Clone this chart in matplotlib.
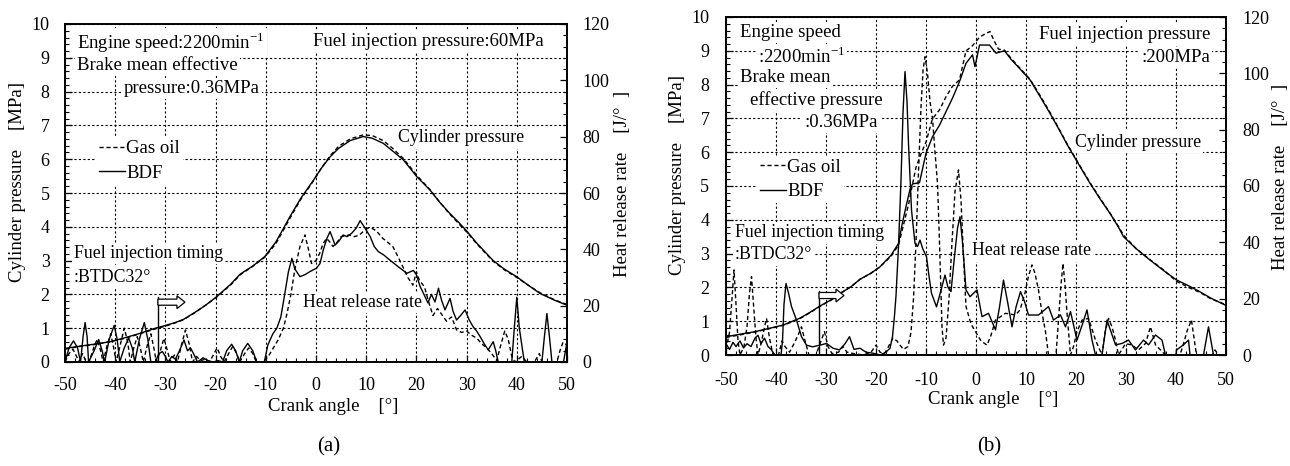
import matplotlib
matplotlib.use("Agg")
import matplotlib.pyplot as plt
import matplotlib.ticker as mticker
from matplotlib.lines import Line2D

plt.rcParams['font.family'] = ['Liberation Serif', 'DejaVu Serif']
plt.rcParams['mathtext.fontset'] = 'custom'
plt.rcParams['mathtext.rm'] = 'Liberation Serif'
plt.rcParams['axes.unicode_minus'] = False

# ---------------- panel (a): fuel injection pressure 60 MPa ----------------
a_p_bdf_x = [-50, -47, -44, -41, -38, -35, -32, -30, -28, -26.4, -24, -22, -19.8, -17, -15.1,
             -12.5, -10.2, -8, -6.5, -5.2, -3, -0.5, 1, 2.8, 4.5, 6.8, 9.4, 11.2, 13.4, 15.2,
             17.4, 20.1, 22.7, 24.5, 26.5, 28.5, 30, 32, 35.3, 37.5, 40, 42.3, 44.6, 47.5, 50]
a_p_bdf = [0.40, 0.47, 0.53, 0.60, 0.72, 0.85, 1.00, 1.08, 1.17, 1.26, 1.48, 1.68, 1.93, 2.30, 2.60,
           2.85, 3.12, 3.55, 3.95, 4.30, 4.85, 5.38, 5.72, 6.07, 6.32, 6.55, 6.67, 6.62, 6.47, 6.25,
           5.98, 5.48, 5.09, 4.75, 4.42, 4.12, 3.88, 3.52, 3.00, 2.75, 2.52, 2.27, 2.03, 1.83, 1.68]
a_p_gas_x = a_p_bdf_x
a_p_gas = [0.38, 0.46, 0.52, 0.60, 0.70, 0.84, 0.98, 1.06, 1.16, 1.25, 1.47, 1.68, 1.92, 2.28, 2.58,
           2.84, 3.10, 3.50, 3.90, 4.25, 4.82, 5.36, 5.72, 6.10, 6.38, 6.60, 6.72, 6.70, 6.55, 6.33,
           6.02, 5.52, 5.10, 4.76, 4.40, 4.08, 3.85, 3.50, 2.98, 2.73, 2.50, 2.27, 2.05, 1.84, 1.70]

a_h_bdf_x = [-50, -49.2, -48.3, -47.5, -46.9, -46.4, -46.0, -45.6, -45.3, -44.2, -43.3, -42.6, -42.1,
             -41.2, -40.2, -39.6, -39.1, -38.2, -37.3, -36.6, -36.1, -35.2, -34.2, -33.5, -32.9,
             -32.0, -31.3, -30.6, -30.0, -29.5, -28.7, -28.0, -27.2, -26.3, -25.6, -25.0, -24.4,
             -23.6, -22.5, -21.5, -20.5, -19.5, -18.6, -17.8, -16.8, -16.0, -15.3, -14.6, -13.6,
             -12.6, -11.8, -10.3, -9.6, -8.6, -7.8, -7.0, -6.2, -5.5, -4.8, -4.2, -3.2, -2.2, -1.2,
             0.1, 0.8, 1.45, 2.2, 2.8, 3.3, 3.8, 4.6, 5.4, 6.2, 7.1, 8.0, 8.8, 9.6, 10.8, 11.6, 12.4,
             13.5, 14.7, 16.4, 18.1, 19.4, 20.0, 20.7, 21.5, 22.3, 23.0, 23.7, 24.4, 25.0, 25.7,
             26.7, 27.3, 28.0, 28.8, 29.7, 30.5, 31.3, 32.0, 32.7, 33.5, 34.3, 35.3, 35.8, 36.3,
             39.0, 39.5, 40.0, 40.5, 41.5, 45.0, 45.5, 46.0, 46.5, 47.0, 49.3, 49.7, 50]
a_h_bdf = [0, 5, 7.5, 5, 0, 9, 14, 9, 0, 4, 8, 4, 0,
           8, 13, 8, 0, 5, 8.5, 5, 0, 8, 14, 8, 0,
           0, 3, 3.7, 2, 0, 2, 1, 4, 7.8, 4, 5, 3,
           0, 1.5, 0.5, 0, 0.5, 0, 4, 6.3, 4, 0, 4, 6.6,
           4, 0, 0, 6, 10, 12, 16, 24.4, 32, 36.8, 33, 30.3, 31, 32.1,
           33.3, 35, 39.8, 44, 46.3, 44, 41.5, 43, 45.1, 44.5, 45.7, 47.5, 50.2, 48, 44.5, 41, 39.2,
           38, 36.2, 33.8, 31.5, 32.5, 31, 27, 24, 21, 24, 21.3, 26.2, 22, 18.5,
           22.6, 18, 14.9, 16.5, 18.5, 15, 12.5, 11, 9, 6.5, 4.3, 7.2, 4, 0,
           0, 12, 23, 12, 0, 0, 9, 17.2, 9, 0, 0, 4, 7]

a_h_gas_x = [-50, -49.2, -48.4, -47.7, -47.2, -46.5, -45.8, -45.2, -44.3, -43.6, -42.9, -42.4,
             -41.6, -40.9, -40.3, -39.8, -39.0, -38.2, -37.5, -37.0, -36.3, -35.6, -35.0, -34.4,
             -33.6, -32.9, -32.3, -31.8, -31.0, -30.3, -29.6, -29.0, -28.2, -27.6, -26.8, -26.0,
             -25.2, -24.6, -23.8, -23.0, -22.0, -21.2, -20.3, -19.7, -19.0, -18.3, -17.4, -16.6,
             -15.8, -15.2, -14.2, -13.4, -12.6, -11.9, -10.5, -9.5, -8.5, -7.5, -6.5, -5.8, -5.0,
             -4.2, -3.2, -2.2, -1.5, -0.9, 0.0, 0.76, 1.4, 2.1, 2.8, 3.4, 4.2, 5.0, 6.6, 7.6, 8.6,
             9.5, 10.3, 11.2, 12.0, 13.3, 14.3, 15.3, 16.3, 17.3, 18.3, 19.3, 20.0, 20.6, 21.6,
             22.5, 23.3, 24.2, 25.0, 26.0, 27.0, 28.0, 29.0, 30.0, 31.0, 32.0, 33.0, 34.0, 35.0,
             36.0, 36.8, 37.6, 38.3, 39.0, 39.6, 41.0, 42.0, 43.5, 44.5, 45.0, 48.0, 48.6, 49.2, 50]
a_h_gas = [0, 3, 4.5, 2, 0, 3, 0, 0, 5, 8, 4, 0,
           6, 10, 5, 0, 6, 12, 7, 0, 5, 9, 5, 0,
           6, 10, 5, 0, 4, 8.4, 4, 0, 2.5, 0, 6, 11.4,
           6, 0, 2, 0.5, 1, 0, 3, 5, 2, 0, 3, 5.5,
           3, 0, 3, 5, 3, 0, 0, 2, 5, 8, 12, 17, 24,
           33, 41, 45.1, 40, 35, 36, 38.7, 42, 43.9, 42.5, 41, 42.5, 44.5, 45.1, 44.5, 45,
           46.5, 47.5, 47.4, 46.6, 43.9, 42.5, 41, 37.5, 33.8, 30, 27.3, 32, 29, 26.7,
           21, 16.5, 19, 17, 14.5, 16, 11.4, 10.5, 11, 9.5, 8.5, 6.5, 5, 3,
           0.5, 6, 11, 8, 2, 0, 2, 0, 0, 3, 0, 0, 4, 7, 6]

# ---------------- panel (b): fuel injection pressure 200 MPa ----------------
b_p_bdf_x = [-50, -47, -44.2, -41, -38.5, -35.2, -33, -31.2, -29, -27.2, -25, -23.2, -21, -19.2,
             -17, -15.5, -14.8, -14.0, -13.2, -12.7, -11.3, -10.0, -8.7, -7.3, -6.0, -4.7, -3.3,
             -2.0, -0.7, -0.2, 0.7, 2.7, 4.0, 5.7, 7.0, 8.7, 10.8, 12.8, 14.8, 16.5, 18.1, 20.5,
             22.8, 24.8, 26.8, 28.5, 29.5, 32, 34.8, 37.5, 40.1, 42.5, 44.8, 47, 49.8, 50]
b_p_bdf = [0.54, 0.62, 0.69, 0.80, 0.89, 1.09, 1.28, 1.45, 1.63, 1.82, 2.02, 2.24, 2.42, 2.61,
           2.95, 3.30, 3.85, 4.39, 4.90, 5.06, 5.10, 5.97, 6.46, 6.80, 7.20, 7.60, 8.09,
           8.63, 8.88, 8.53, 9.17, 9.17, 8.93, 9.00, 8.75, 8.48, 8.14, 7.65, 7.15, 6.70, 6.26, 5.65,
           5.08, 4.62, 4.19, 3.78, 3.50, 3.15, 2.81, 2.50, 2.22, 2.05, 1.87, 1.68, 1.48, 1.46]
b_p_gas_x = [-50, -47, -44.2, -41, -38.5, -35.2, -33, -31.2, -29, -27.2, -25, -23.2, -21, -19.2,
             -17, -15.5, -14.5, -13.5, -12.7, -12.0, -11, -10, -8.7, -7.3, -6.0, -4.7, -3.3,
             -2.0, -0.7, 0.7, 1.8, 2.8, 3.6, 4.5, 5.7, 7.0, 8.7, 10.8, 12.8, 14.8, 16.5, 18.1, 20.5,
             22.8, 24.8, 26.8, 28.5, 29.5, 32, 34.8, 37.5, 40.1, 42.5, 44.8, 47, 49.8, 50]
b_p_gas = [0.52, 0.60, 0.68, 0.79, 0.88, 1.08, 1.27, 1.44, 1.62, 1.82, 2.02, 2.24, 2.42, 2.61,
           2.92, 3.25, 3.85, 4.45, 5.05, 5.55, 5.95, 6.30, 6.99, 7.25, 7.64, 7.95, 8.14,
           9.00, 9.15, 9.40, 9.50, 9.57, 9.30, 9.05, 9.02, 8.78, 8.50, 8.16, 7.68, 7.18, 6.72, 6.28, 5.67,
           5.10, 4.64, 4.20, 3.80, 3.55, 3.15, 2.82, 2.52, 2.18, 2.00, 1.85, 1.66, 1.50, 1.48]

b_h_bdf_x = [-50, -49.3, -48.6, -48, -47.2, -46.5, -45.8, -45, -44.2, -43.6, -43, -42.3, -41.6, -41,
             -40.2, -39.0, -38.7, -38.4, -38.0, -37.5, -36.9, -35.9, -34.9, -33.9, -32.7, -31.2,
             -29.9, -28.6, -27.3, -26.2, -25.3, -24.4, -23.2, -22.0, -20.5, -19.2, -18.0, -17.2,
             -16.7, -16.3, -16.0, -15.5, -15.0, -14.6, -14.2, -13.8, -13.5, -12.9, -12.2, -11.7,
             -11.2, -10.6, -9.9, -9.4, -8.9, -7.9, -7.0, -6.2, -5.6, -5.0, -4.3, -3.7, -3.2, -2.7,
             -2.0, -1.2, 0.2, 1.2, 2.5, 3.9, 4.7, 5.5, 6.3, 7.2, 8.0, 8.9, 9.7, 10.5, 12.5, 14.5,
             15.5, 16.9, 17.9, 18.9, 20.2, 21.3, 22.2, 23.2, 23.9, 25.2, 26.2, 27.9, 29.2, 30.5,
             31.9, 33.5, 34.5, 35.9, 37.2, 37.9, 40.0, 40.1, 41.5, 42.5, 42.8, 45.5, 46.5, 47.5, 50]
b_h_bdf = [4, 2, 4.5, 3, 5, 2.5, 4, 3, 6, 7, 4, 6, 3, 2,
           0, 0, 5, 18, 25.4, 22, 17.2, 12.4, 6.5, 3.5, 2.9, 3.5,
           4.1, 2.4, 1.8, 4, 6.5, 2, 2.4, 1, 0.6, 0, 1, 2.4,
           6.5, 14, 21, 38.6, 62, 86, 100.6, 90, 75, 51.5, 39.6, 38.5,
           40.8, 37.5, 34.9, 28, 21.9, 17.1, 23, 28.4, 24, 22.5, 35, 45, 49.1, 40,
           23.1, 20.7, 23.1, 13.6, 14.8, 8.9, 17, 26.6, 19, 10.0, 17, 22.5, 19, 14.2, 14.2, 17.2,
           12.4, 14.2, 10, 15.4, 5.3, 11, 16, 5.3, 0, 0, 12.4, 3.6, 4.1, 5.3,
           1.8, 5.3, 3.6, 7.1, 5.3, 0, 0, 1.8, 3.6, 5.3, 0, 0, 10, 0, 0]

b_h_gas_x = [-50, -49.3, -48.8, -48.4, -48.0, -47.6, -47.2, -46.4, -45.8, -45.3, -44.9, -44.5, -44.0,
             -43.6, -43.0, -42.4, -41.9, -41.3, -40.6, -39.5, -38.8, -38.2, -37.3, -36.4, -35.6,
             -34.9, -34.2, -33.4, -32.0, -31.2, -30.3, -29.6, -28.8, -27.5, -26.6, -25.8, -24.5,
             -22.5, -21, -20.0, -19.2, -18.3, -17.5, -16.6, -15.8, -15.2, -14.5, -13.6, -13.0,
             -12.5, -12.0, -11.5, -11.0, -10.6, -10.2, -9.7, -9.2, -8.7, -8.2, -7.7, -7.3, -7.1,
             -6.8, -6.5, -6.0, -5.4, -4.8, -4.2, -3.5, -3.0, -2.5, -2.0, -1.0, 0.0, 1.0, 2.2, 3.0,
             3.9, 5.9, 7.9, 8.8, 9.8, 10.5, 11.2, 11.8, 12.5, 13.2, 13.9, 14.5, 16.0, 16.5, 17.0,
             17.4, 17.8, 18.2, 18.9, 19.5, 20.2, 21.2, 22.5, 23.9, 25.2, 25.8, 26.5, 27.2, 27.9,
             28.5, 29.9, 31.2, 32.5, 33.9, 34.9, 35.9, 37.9, 40.8, 41.5, 42.3, 43.1, 43.6, 44.1,
             47.3, 47.8, 48.5, 50]
b_h_gas = [2, 8, 20, 30.2, 18, 5, 0, 3, 10, 22, 27.8, 18, 6,
           0, 4, 9, 13, 6, 0, 0, 5, 3, 1, 4, 7,
           10, 5, 0, 0, 4, 8.3, 3, 0.5, 1, 3, 1, 0.5,
           0, 1, 3.5, 1, 0.5, 3, 6, 5, 3.5, 2, 3, 8,
           20, 40, 65, 88, 101, 105.9, 100, 90, 84, 72, 61, 40, 27.8,
           10, 3.5, 6, 20, 40, 58, 65.7, 55, 35, 17.2, 11, 8, 5, 3.5, 7,
           12.4, 14.8, 14.2, 16, 22, 28, 32, 29, 23, 15, 8.3, 0, 0, 12.4, 25,
           32.5, 25, 14.8, 0, 3, 8.3, 12.4, 13, 5.3, 0, 8, 13, 10, 5.3,
           0, 4, 3.6, 1.8, 4.1, 10, 3.6, 0, 0, 4, 9, 12.4, 6, 0,
           0, 1.8, 0, 0]

x_ticks = [-50, -40, -30, -20, -10, 0, 10, 20, 30, 40, 50]
p_ticks = list(range(0, 11))
h_ticks = [0, 20, 40, 60, 80, 100, 120]

W, H = 1290, 466
fig = plt.figure(figsize=(W / 100, H / 100), dpi=100)

FS_TICK = 13
FS_TXT = 13.5
FS_SMALL = 12.8
WHITE = dict(facecolor='white', edgecolor='none', pad=1.5)


def setup(ax, pad):
    ax.set_xlim(-50, 50)
    ax.set_ylim(0, 10)
    ax.set_xticks(x_ticks)
    ax.set_yticks(p_ticks)
    ax.xaxis.set_minor_locator(mticker.MultipleLocator(2))
    ax.yaxis.set_minor_locator(mticker.MultipleLocator(0.2))
    ax.tick_params(which='both', direction='in', top=False, right=False,
                   labelsize=FS_TICK, pad=pad)
    ax.tick_params(which='major', length=5, width=0.9)
    ax.tick_params(which='minor', length=3, width=0.8)
    ax.grid(True, which='major', color='black', linewidth=0.8, linestyle=(0, (2, 2)), zorder=0)
    ax.set_axisbelow(True)
    for s in ax.spines.values():
        s.set_linewidth(1.2)
    ax2 = ax.twinx()
    ax2.set_ylim(0, 120)
    ax2.set_yticks(h_ticks)
    ax2.yaxis.set_minor_locator(mticker.MultipleLocator(4))
    ax2.tick_params(which='both', direction='in', labelsize=FS_TICK, pad=pad)
    ax2.tick_params(which='major', length=5, width=0.9)
    ax2.tick_params(which='minor', length=3, width=0.8)
    for s in ax2.spines.values():
        s.set_linewidth(1.2)
    return ax2


def txt(ax, x, y, s, ha='left', size=FS_TXT):
    ax.text(x, y, s, ha=ha, va='center', fontsize=size, bbox=WHITE, zorder=3)


def labels(ax, ylab_x, ylab_r_x, xlab_y, tag_y, tag):
    ax.text(ylab_x, 0.534, 'Cylinder pressure    [MPa]', transform=ax.transAxes,
            rotation=90, ha='center', va='center', fontsize=FS_TXT)
    ax.text(ylab_r_x, 0.527, 'Heat release rate    [J/°  ]', transform=ax.transAxes,
            rotation=90, ha='center', va='center', fontsize=FS_TXT)
    ax.text(0.534, xlab_y, 'Crank angle    [°]', transform=ax.transAxes,
            ha='center', va='center', fontsize=FS_TXT)
    ax.text(0.526, tag_y, tag, transform=ax.transAxes,
            ha='center', va='center', fontsize=15)


def legend(ax, x, y):
    hs = [Line2D([], [], color='black', lw=1.0, linestyle=(0, (3, 2))),
          Line2D([], [], color='black', lw=1.0)]
    lg = ax.legend(hs, ['Gas oil', 'BDF'], loc='upper left', bbox_to_anchor=(x, y),
                   fontsize=FS_TXT, frameon=True, fancybox=False, framealpha=1,
                   borderpad=0.15, borderaxespad=0, handlelength=1.4,
                   handletextpad=0.05, labelspacing=0.4)
    lg.get_frame().set_edgecolor('none')
    lg.set_zorder(3)


def injection(ax, x0, y_top, y_mid, tip):
    ax.plot([x0, x0], [0, y_top], color='black', lw=1.0, zorder=4)
    ax.arrow(x0, y_mid, tip - x0, 0, width=0.18, head_width=0.38, head_length=1.6,
             length_includes_head=True, facecolor='white', edgecolor='black', lw=0.9, zorder=4)


# ---------------- (a) ----------------
axa = fig.add_axes([65 / W, (H - 362) / H, 502 / W, 338 / H])
axa2 = setup(axa, 11)
axa.plot(a_p_gas_x, a_p_gas, color='black', lw=1.0, linestyle=(0, (3, 2)), zorder=4)
axa.plot(a_p_bdf_x, a_p_bdf, color='black', lw=1.0, zorder=4)
axa2.plot(a_h_gas_x, a_h_gas, color='black', lw=1.0, linestyle=(0, (3, 2)))
axa2.plot(a_h_bdf_x, a_h_bdf, color='black', lw=1.0)
txt(axa, -47.6, 9.44, 'Engine speed:2200min$^{\\mathrm{-1}}$')
txt(axa, -47.6, 8.76, 'Brake mean effective')
txt(axa, -11.2, 8.10, 'pressure:0.36MPa', ha='right')
txt(axa, -0.6, 9.47, 'Fuel injection pressure:60MPa')
txt(axa, 16.3, 6.63, 'Cylinder pressure', size=FS_SMALL)
txt(axa, -48.2, 3.22, 'Fuel injection timing', size=FS_SMALL)
txt(axa, -48.2, 2.51, ':BTDC32°', size=FS_SMALL)
txt(axa, -2.6, 1.75, 'Heat release rate', size=FS_SMALL)
legend(axa, 0.062, 0.665)
injection(axa, -31.5, 1.92, 1.77, -26.1)
labels(axa, -0.094, 1.110, -0.133, -0.251, '(a)')

# ---------------- (b) ----------------
axb = fig.add_axes([726 / W, (H - 355) / H, 500 / W, 338 / H])
axb2 = setup(axb, 12)
axb.plot(b_p_gas_x, b_p_gas, color='black', lw=1.0, linestyle=(0, (3, 2)), zorder=4)
axb.plot(b_p_bdf_x, b_p_bdf, color='black', lw=1.0, zorder=4)
axb2.plot(b_h_gas_x, b_h_gas, color='black', lw=1.0, linestyle=(0, (3, 2)))
axb2.plot(b_h_bdf_x, b_h_bdf, color='black', lw=1.0)
txt(axb, -47.2, 9.53, 'Engine speed')
txt(axb, -43.6, 8.82, ':2200min$^{\\mathrm{-1}}$')
txt(axb, -47.2, 8.20, 'Brake mean')
txt(axb, -45.2, 7.54, 'effective pressure')
txt(axb, -19.6, 6.89, ':0.36MPa', ha='right')
txt(axb, 46.8, 9.47, 'Fuel injection pressure', ha='right')
txt(axb, 46.8, 8.79, ':200MPa', ha='right')
txt(axb, 19.8, 6.30, 'Cylinder pressure', size=FS_SMALL)
txt(axb, -48.2, 3.61, 'Fuel injection timing', size=FS_SMALL)
txt(axb, -48.2, 2.96, ':BTDC32°', size=FS_SMALL)
txt(axb, -0.8, 3.08, 'Heat release rate', size=FS_SMALL)
legend(axb, 0.062, 0.59)
injection(axb, -31.4, 1.90, 1.76, -26.4)
labels(axb, -0.098, 1.108, -0.133, -0.272, '(b)')

fig.savefig('out.png', dpi=100)
